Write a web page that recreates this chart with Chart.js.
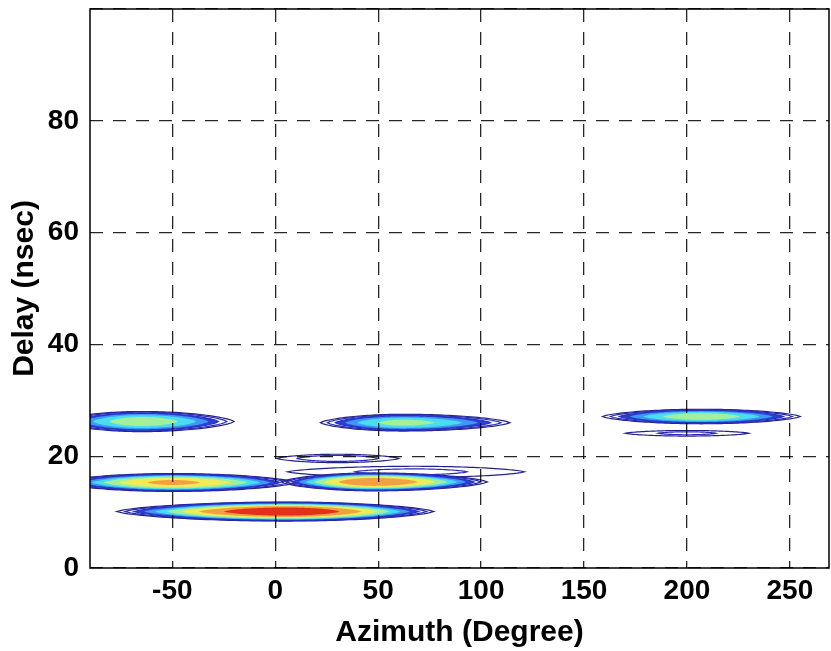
<!DOCTYPE html>
<html>
<head>
<meta charset="utf-8">
<script src="https://cdn.jsdelivr.net/npm/chart.js@4"></script>
<style>
  body { margin: 0; background: #fff; }
  #wrap { width: 831px; height: 651px; }
</style>
</head>
<body>
<div id="wrap"><canvas id="c1"></canvas></div>
<script>
/* clusters: centre, extent of outer contour, peak level */
var azimuth    = [-65,  62,   30,  -50,  48,   68,   5,   207,  200];
var delay      = [26.2, 26.0, 19.6, 15.3, 15.4, 17.2, 10.1, 27.1, 24.1];
var spanLeft   = [40,   40,   29,   55,   45,   62,   82,   48,   30];
var spanRight  = [45,   52,   30,   60,   55,   53,   72,   48,   30];
var halfHeight = [1.8,  1.5,  0.75, 1.6,  1.6,  1.0,  1.7,  1.3,  0.5];
var peak       = [0.66, 0.63, 0.26, 0.82, 0.88, 0.22, 0.98, 0.66, 0.22];

/* contour levels and colours */
var levels = [0.1, 0.2, 0.3, 0.4, 0.5, 0.6, 0.7, 0.8, 0.9];
var levelFill = [null, null, '#2c3ed8', '#3f98f4', '#4adcf2', '#a2f09c', '#f0ec56', '#f4a040', '#e2301c'];
var levelLine = ['#22228a', '#2a2ab8', '#2433c0', null, null, null, null, null, null];

var xTicksMin = -90, xTicksMax = 269;
var yTicksMin = 0, yTicksMax = 100;

var font = '"Liberation Sans", Arial, Helvetica, sans-serif';

/* centres as dataset */
var centres = [];
for (var i = 0; i < azimuth.length; i++) {
  centres.push({x: azimuth[i], y: delay[i]});
}

function contourPath(ctx, xs, ys, i, r) {
  var aL = spanLeft[i] * r, aR = spanRight[i] * r, b = halfHeight[i] * Math.pow(r, 0.85);
  var n = 60, s, k, px, py, h;
  ctx.beginPath();
  for (k = 0; k <= n; k++) {
    s = -1 + 2 * k / n;
    h = Math.pow(Math.max(0, 1 - s * s), 0.7);
    px = azimuth[i] + s * (s < 0 ? aL : aR);
    py = delay[i] + b * h;
    if (k == 0) ctx.moveTo(xs.getPixelForValue(px), ys.getPixelForValue(py));
    else ctx.lineTo(xs.getPixelForValue(px), ys.getPixelForValue(py));
  }
  for (k = n; k >= 0; k--) {
    s = -1 + 2 * k / n;
    h = Math.pow(Math.max(0, 1 - s * s), 0.7);
    px = azimuth[i] + s * (s < 0 ? aL : aR);
    py = delay[i] - b * h;
    ctx.lineTo(xs.getPixelForValue(px), ys.getPixelForValue(py));
  }
  ctx.closePath();
}

var contourPlugin = {
  id: 'contours',
  beforeDatasetsDraw: function(chart) {
    var ctx = chart.ctx, a = chart.chartArea;
    var xs = chart.scales.x, ys = chart.scales.y;
    ctx.save();
    ctx.beginPath();
    ctx.rect(a.left, a.top, a.right - a.left, a.bottom - a.top);
    ctx.clip();
    for (var l = 0; l < levels.length; l++) {
      for (var i = 0; i < azimuth.length; i++) {
        if (peak[i] <= levels[l]) continue;
        var r = Math.pow((peak[i] - levels[l]) / (peak[i] - levels[0]), 0.42);
        contourPath(ctx, xs, ys, i, r);
        if (levelFill[l]) {
          ctx.fillStyle = levelFill[l];
          ctx.fill();
        }
        if (levelLine[l]) {
          ctx.strokeStyle = levelLine[l];
          ctx.lineWidth = 1.2;
          ctx.stroke();
        }
      }
    }
    ctx.restore();
  },
  afterDraw: function(chart) {
    var ctx = chart.ctx, a = chart.chartArea;
    ctx.save();
    ctx.strokeStyle = '#000';
    ctx.lineWidth = 1.5;
    ctx.strokeRect(a.left, a.top, a.right - a.left, a.bottom - a.top);
    ctx.restore();
  }
};

var ctx = document.getElementById('c1').getContext('2d');

var myChart = new Chart(ctx, {
  type: 'scatter',
  data: {
    datasets: [{
      label: 'clusters',
      data: centres,
      pointRadius: 0,
      pointHoverRadius: 0
    }]
  },
  options: {
    responsive: true,
    maintainAspectRatio: false,
    animation: false,
    layout: { padding: { top: 9, right: 2, left: 0, bottom: 0 } },
    plugins: {
      legend: { display: false },
      tooltip: { enabled: false }
    },
    scales: {
      x: {
        type: 'linear',
        min: xTicksMin,
        max: xTicksMax,
        afterFit: function(scale) {
          scale.height = 83;
          scale.paddingLeft = 0;
          scale.paddingRight = 0;
        },
        grid: { z: 1, color: 'rgba(0,0,0,0.85)', lineWidth: 1.3, drawTicks: false },
        border: { display: false, dash: [13, 10] },
        ticks: {
          stepSize: 50,
          includeBounds: false,
          padding: 6,
          color: '#000',
          font: { family: font, size: 28, weight: 'bold' }
        },
        title: {
          display: true,
          text: 'Azimuth (Degree)',
          color: '#000',
          padding: 0,
          font: { family: font, size: 30, weight: 'bold' }
        }
      },
      y: {
        type: 'linear',
        min: yTicksMin,
        max: yTicksMax,
        afterFit: function(scale) {
          scale.width = 90;
          scale.paddingTop = 0;
          scale.paddingBottom = 0;
        },
        grid: { z: 1, color: 'rgba(0,0,0,0.85)', lineWidth: 1.3, drawTicks: false },
        border: { display: false, dash: [13, 10] },
        ticks: {
          stepSize: 20,
          padding: 11,
          color: '#000',
          font: { family: font, size: 28, weight: 'bold' },
          callback: function(v) { return v == 100 ? '' : v; }
        },
        title: {
          display: true,
          text: 'Delay (nsec)',
          color: '#000',
          padding: { top: 7, bottom: 0 },
          font: { family: font, size: 30, weight: 'bold' }
        }
      }
    }
  },
  plugins: [contourPlugin]
});
</script>
</body>
</html>
